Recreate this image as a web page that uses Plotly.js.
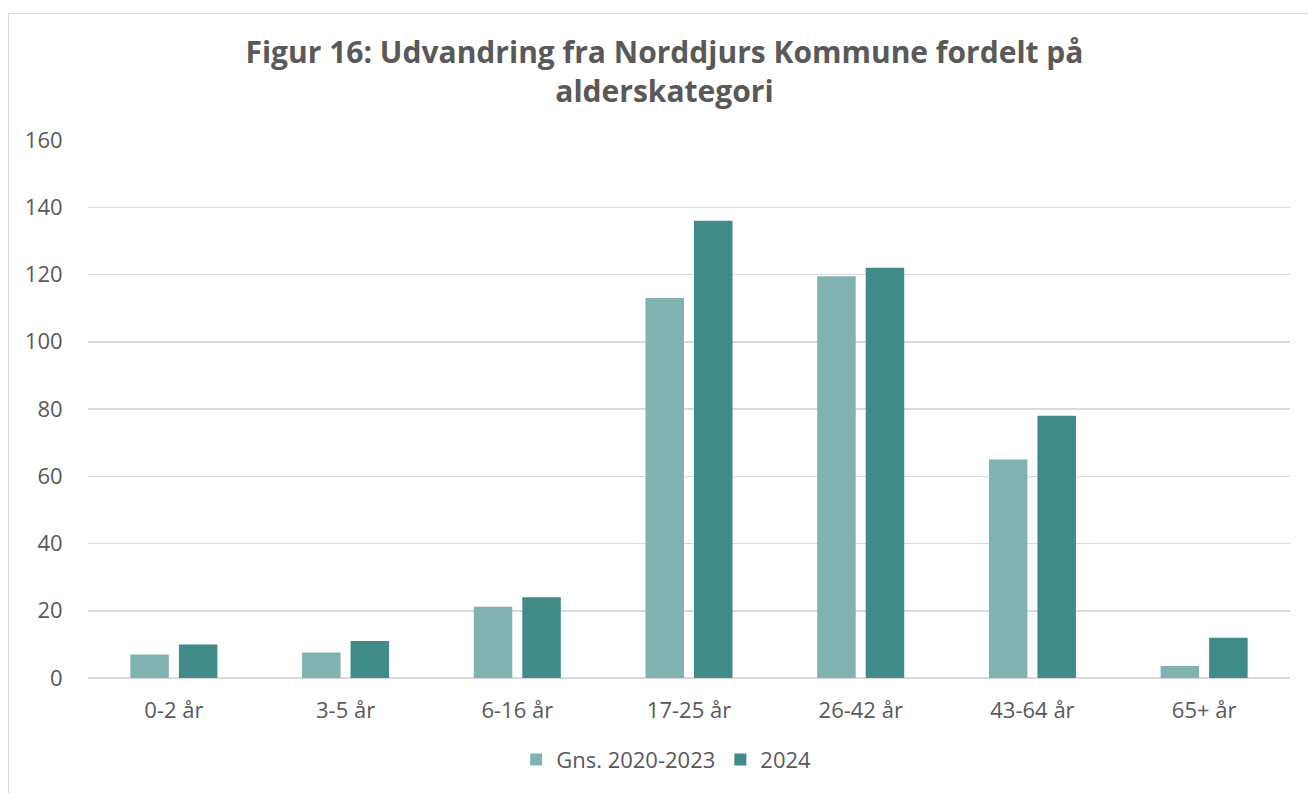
<!DOCTYPE html>
<html>
<head>
<meta charset="utf-8">
<script src="https://cdn.plot.ly/plotly-3.0.1.min.js"></script>
<style>
html,body{margin:0;padding:0;background:#fff;}
#wrap{position:relative;width:1308px;height:793px;overflow:hidden;}
#chart{width:1308px;height:793px;}
#frame{position:absolute;left:8px;top:13px;width:1320px;height:800px;border:1px solid #d9d9d9;pointer-events:none;}
</style>
</head>
<body>
<div id="wrap"><div id="chart"></div><div id="frame"></div></div>
<script>
const categories = ["0-2 år", "3-5 år", "6-16 år", "17-25 år", "26-42 år", "43-64 år", "65+ år"];
const seriesNames = ["Gns. 2020-2023", "2024"];
const avg2020_2023 = [7, 7.6, 21.2, 113, 119.5, 65, 3.6];
const y2024 = [10, 11, 24, 136, 122, 78, 12];
const yTicks = [0, 20, 40, 60, 80, 100, 120, 140, 160];

const font = "'Open Sans', sans-serif";
const traces = [
  {type: "bar", name: seriesNames[0], x: categories, y: avg2020_2023, marker: {color: "#82B2B0"}, hoverinfo: "y"},
  {type: "bar", name: seriesNames[1], x: categories, y: y2024, marker: {color: "#408A87"}, hoverinfo: "y"}
];
const layout = {
  width: 1308, height: 793,
  margin: {l: 88, r: 18, t: 140, b: 112},
  paper_bgcolor: "rgba(0,0,0,0)", plot_bgcolor: "#fff",
  font: {family: font, color: "#595959", size: 22},
  title: {
    text: "<b>Figur 16: Udvandring fra Norddjurs Kommune fordelt på<br>alderskategori</b>",
    font: {family: font, size: 30, color: "#595959"},
    xref: "container", yref: "container", x: 0.508, xanchor: "center", y: 0.921, yanchor: "middle"
  },
  barmode: "group", bargap: 0.435, bargroupgap: 0.206,
  xaxis: {showgrid: false, showline: false, ticks: "outside", ticklen: 13, tickcolor: "rgba(0,0,0,0)",
          tickfont: {size: 22, color: "#595959"}, fixedrange: true},
  yaxis: {range: [0, 160], tickvals: yTicks, ticktext: yTicks.map(String), showgrid: true, gridcolor: "#d9d9d9", gridwidth: 1.5,
          zeroline: true, zerolinecolor: "#d9d9d9", zerolinewidth: 1.5, ticks: "outside", ticklen: 20, tickcolor: "rgba(0,0,0,0)",
          tickfont: {size: 22, color: "#595959"}, automargin: false, fixedrange: true},
  showlegend: true,
  legend: {orientation: "h", x: 0.481, xanchor: "center", y: -0.152, yanchor: "middle", font: {size: 22, color: "#595959"}, itemwidth: 30, traceorder: "normal"}
};
Plotly.newPlot("chart", traces, layout, {displayModeBar: false, staticPlot: true});
</script>
</body>
</html>
